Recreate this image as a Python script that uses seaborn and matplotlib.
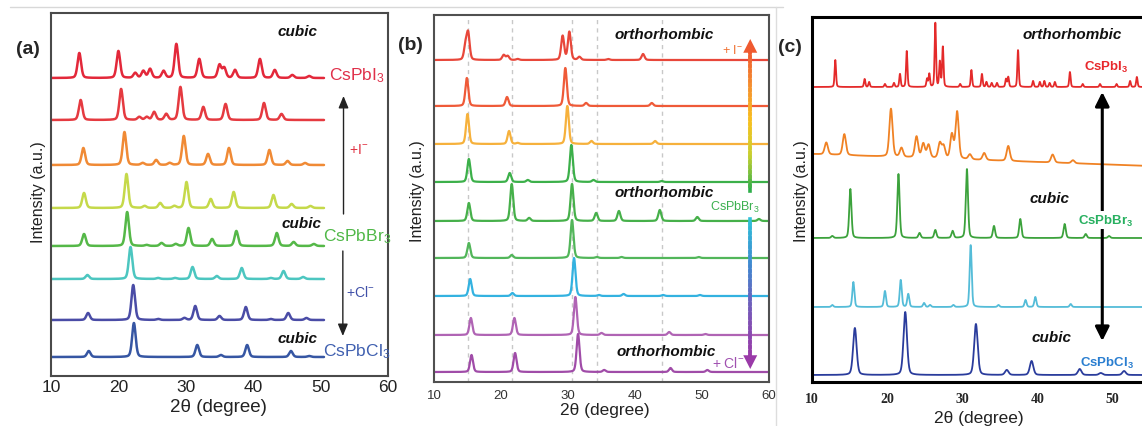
import numpy as np
import pandas as pd
import matplotlib
matplotlib.use("Agg")
import matplotlib.pyplot as plt
import seaborn as sns
from matplotlib.collections import LineCollection
from matplotlib.colors import LinearSegmentedColormap
from matplotlib.lines import Line2D
from matplotlib.ticker import MultipleLocator

# ---- panel (a): CsPbI3 (top) -> CsPbBr3 -> CsPbCl3 (bottom), cubic
a_colors = ["#e3283a", "#e53a40", "#f08a35", "#c5d94a", "#55b848", "#4cc6c0", "#4a4ca6", "#3656a3"]
a_offsets = [298, 256, 211, 168, 130, 97, 56, 19]
a_pos = [
    [14.2, 20.0, 22.5, 23.7, 24.7, 26.7, 28.6, 32.0, 35.0, 35.7, 37.3, 41.0, 43.2, 45.8, 48.3],
    [14.4, 20.4, 23.1, 24.2, 25.3, 27.1, 29.2, 32.6, 35.9, 41.6, 44.2],
    [14.8, 20.9, 23.6, 25.6, 27.6, 29.7, 33.3, 36.4, 42.4, 45.1, 47.7],
    [14.9, 21.2, 23.9, 26.2, 28.3, 30.1, 33.7, 37.1, 43.0, 45.7, 48.5],
    [14.9, 21.3, 24.2, 26.4, 28.5, 30.4, 33.9, 37.5, 43.5, 46.0, 49.0],
    [15.4, 21.8, 25.9, 28.4, 31.0, 34.6, 38.3, 42.6, 44.5, 47.4],
    [15.5, 22.2, 25.9, 29.8, 31.4, 35.0, 38.9, 42.6, 45.2, 47.9],
    [15.6, 22.3, 31.7, 35.2, 39.1, 45.6, 48.3],
]
a_hts = [
    [25, 27, 5, 7, 9, 7, 34, 19, 13, 10, 8, 19, 8, 3, 2],
    [20, 31, 3, 3, 8, 6, 33, 13, 16, 17, 6],
    [17, 33, 2, 5, 2, 29, 11, 17, 15, 4, 2],
    [15, 34, 2, 5, 2, 26, 9, 16, 13, 4, 2],
    [12, 34, 1, 3, 2, 18, 7, 15, 13, 4, 2],
    [4, 32, 1, 1, 12, 3, 11, 1, 8, 2],
    [7, 35, 1, 2, 14, 4, 13, 1, 7, 2],
    [6, 34, 12, 2, 12, 6, 1],
]

# ---- panel (b): orthorhombic, +I- (top) / CsPbBr3 / +Cl- (bottom)
b_colors = ["#e8473a", "#ef5a38", "#f6b13c", "#3cb04a", "#46b04a", "#52b65a", "#33b2e0", "#b064b4", "#a04ca8"]
b_offsets = [322, 276, 238, 200, 161, 124, 86, 47, 10]
b_pos = [
    [14.7, 15.1, 20.4, 21.0, 22.5, 29.2, 30.2, 31.7, 36.0, 41.2],
    [14.9, 20.9, 29.6, 32.7, 42.5],
    [15.0, 21.2, 22.5, 29.9, 33.5, 43.0],
    [15.2, 21.3, 24.0, 30.5, 33.8, 44.0],
    [15.2, 21.6, 24.2, 30.6, 34.2, 37.6, 43.7, 49.3, 58.5],
    [15.2, 21.6, 30.6, 34.3, 38.0, 49.5],
    [15.4, 21.7, 30.9, 34.6, 38.3, 44.2, 49.7],
    [15.5, 22.0, 31.1, 35.0, 45.1, 50.5],
    [15.6, 22.1, 31.5, 35.4, 45.3, 50.8],
]
b_hts = [
    [14, 26, 5, 4, 1, 24, 28, 3, 1, 6],
    [28, 9, 38, 3, 3],
    [30, 13, 1, 38, 3, 3],
    [23, 9, 2, 37, 2, 1],
    [18, 37, 3, 37, 8, 10, 11, 4, 2],
    [15, 3, 38, 1, 1, 1],
    [17, 3, 38, 1, 2, 1, 1],
    [17, 17, 38, 2, 3, 1],
    [17, 19, 38, 2, 4, 2],
]
b_refs = [15.1, 21.6, 30.6, 34.4, 44.0]

# ---- panel (c): CsPbI3 (orthorhombic) -> CsPbBr3 (cubic) -> CsPbCl3 (cubic)
c_colors = ["#e42a2a", "#f08224", "#3ca23c", "#54bcd8", "#2a3c9c"]
c_offsets = [295, 228, 144, 75, 7]
c_tilt = [0, -12, 0, 0, 0]
c_width = [0.22, 0.5, 0.35, 0.32, 0.55]
c_pos = [
    [13.1, 17.0, 17.6, 19.7, 20.9, 21.7, 22.6, 25.3, 25.6, 26.4, 27.0, 27.4, 29.7, 31.2, 32.6,
     33.2, 33.9, 34.6, 35.8, 36.1, 37.4, 39.4, 40.3, 40.9, 41.6, 42.3, 44.3, 46.0, 48.3, 50.5, 52.3, 53.2],
    [11.9, 14.3, 20.5, 21.9, 23.9, 24.8, 25.5, 27.0, 27.5, 28.6, 29.3, 31.0, 32.9, 36.1, 42.0, 44.7],
    [12.7, 15.1, 21.5, 24.3, 26.4, 28.7, 30.6, 34.2, 37.7, 43.6, 46.4, 49.5],
    [12.7, 15.5, 19.7, 21.8, 22.8, 24.9, 25.7, 28.8, 31.1, 34.8, 38.4, 39.7, 44.4],
    [15.7, 22.4, 31.8, 35.9, 39.2, 45.6, 48.4, 51.5],
]
c_hts = [
    [27, 8, 5, 3, 4, 13, 36, 8, 13, 64, 25, 40, 3, 17, 13,
     5, 4, 4, 8, 10, 37, 6, 5, 6, 4, 5, 15, 3, 3, 3, 6, 10],
    [12, 21, 48, 9, 21, 14, 13, 15, 12, 24, 47, 5, 7, 15, 8, 3],
    [2, 49, 64, 5, 8, 7, 69, 12, 19, 14, 4, 2],
    [2, 25, 16, 27, 13, 4, 2, 2, 62, 2, 7, 10, 3],
    [47, 63, 51, 5, 14, 6, 2, 4],
]

W, H = 1142, 427
sns.set_style("white")
plt.rcParams["font.family"] = ["Liberation Sans", "DejaVu Sans"]
plt.rcParams["mathtext.fontset"] = "custom"
plt.rcParams["mathtext.rm"] = "Liberation Sans"
plt.rcParams["mathtext.it"] = "Liberation Sans:italic"
plt.rcParams["mathtext.bf"] = "Liberation Sans:bold"

fig = plt.figure(figsize=(W / 100, H / 100), dpi=100)
fig.patch.set_facecolor("white")


def rect(left, top, right, bottom):
    return [left / W, 1 - bottom / H, (right - left) / W, (bottom - top) / H]


def draw_trace(ax, x0, x1, pos, hts, width, offset, color, lw, tilt=0):
    x = np.linspace(x0, x1, 2500)
    y = offset + tilt * (x - x0) / 45.0
    for p, h in zip(pos, hts):
        u = (x - p) / width
        y = y + h * (0.7 * np.exp(-4 * np.log(2) * u ** 2) + 0.3 / (1 + 4 * u ** 2))
    df = pd.DataFrame({"two_theta": x, "intensity": y})
    sns.lineplot(data=df, x="two_theta", y="intensity", ax=ax, color=color,
                 linewidth=lw, estimator=None, sort=False)


def gradient_arrow(ax, x, y0, y1, colors, lw=2.6):
    step = 1 if y1 > y0 else -1
    ys = np.linspace(y0, y1 - step * 8, 31)
    pts = np.column_stack([np.full_like(ys, x), ys]).reshape(-1, 1, 2)
    segs = np.concatenate([pts[:-1], pts[1:]], axis=1)
    cmap = LinearSegmentedColormap.from_list("grad", colors)
    lc = LineCollection(segs, colors=cmap(np.linspace(0, 1, len(segs))), linewidth=lw,
                        capstyle="projecting", zorder=4)
    ax.add_collection(lc)
    ax.annotate("", xy=(x, y1), xytext=(x, y1 - step * 10),
                arrowprops=dict(arrowstyle="-|>,head_length=0.55,head_width=0.28",
                                color=colors[-1], lw=0, shrinkA=0, shrinkB=0,
                                mutation_scale=18), zorder=5)


# ================= panel (a) =================
ax_a = fig.add_axes(rect(51, 14, 388, 377))
for i in range(len(a_pos)):
    draw_trace(ax_a, 10, 50.5, a_pos[i], a_hts[i], 0.62, a_offsets[i], a_colors[i], 1.8)
ax_a.set_xlim(10, 60)
ax_a.set_ylim(0, 363)
ax_a.xaxis.set_major_locator(MultipleLocator(10))
ax_a.xaxis.set_minor_locator(MultipleLocator(5))
ax_a.tick_params(axis="x", which="both", direction="in", length=4, width=1.2,
                 color="#333333", labelsize=12.5, labelcolor="#222222", pad=2)
ax_a.tick_params(axis="y", left=False, labelleft=False)
for s in ax_a.spines.values():
    s.set_color("#4a4a4a")
    s.set_linewidth(1.5)
ax_a.set_xlabel("2θ (degree)", fontsize=13.5, color="#222222", va="center")
ax_a.xaxis.set_label_coords(0.496, -0.085)
ax_a.set_ylabel("Intensity (a.u.)", fontsize=11.5, color="#222222", va="center")
ax_a.yaxis.set_label_coords(-0.038, 0.51)

txt = dict(fontsize=11, fontweight="bold", fontstyle="italic", ha="center", va="center", color="#111111")
ax_a.text(46.6, 345, "cubic", **txt)
ax_a.text(47.2, 153, "cubic", **txt)
ax_a.text(46.6, 38, "cubic", **txt)
ax_a.text(51.3, 301, r"CsPbI$_3$", fontsize=12.5, color="#e0304a", va="center", clip_on=False)
ax_a.text(50.3, 140, r"CsPbBr$_3$", fontsize=12.5, color="#50b848", va="center", clip_on=False)
ax_a.text(50.3, 25, r"CsPbCl$_3$", fontsize=12.5, color="#4060b0", va="center", clip_on=False)
ax_a.text(54.2, 227, r"+I$^{-}$", fontsize=10, color="#e03040", va="center")
ax_a.text(53.7, 84, r"+Cl$^{-}$", fontsize=10, color="#4050a8", va="center")
arr = dict(arrowstyle="-|>,head_length=0.6,head_width=0.25", color="#222222", lw=1.0,
           shrinkA=0, shrinkB=0, mutation_scale=12)
ax_a.annotate("", xy=(53.4, 280), xytext=(53.4, 162), arrowprops=arr)
ax_a.annotate("", xy=(53.3, 40), xytext=(53.3, 125), arrowprops=arr)

# ================= panel (b) =================
ax_b = fig.add_axes(rect(434, 16, 769, 383))
for xr in b_refs:
    ax_b.axvline(xr, color="#c8c8c8", lw=1.0, ls=(0, (3, 3)), zorder=0)
for i in range(len(b_pos)):
    draw_trace(ax_b, 10, 60, b_pos[i], b_hts[i], 0.52, b_offsets[i], b_colors[i], 1.6)
ax_b.set_xlim(10, 60)
ax_b.set_ylim(0, 367)
ax_b.xaxis.set_major_locator(MultipleLocator(10))
ax_b.tick_params(axis="x", direction="in", length=3, width=1.5, color="#444444",
                 labelsize=9.5, labelcolor="#333333", pad=5)
ax_b.tick_params(axis="y", left=False, labelleft=False)
for s in ax_b.spines.values():
    s.set_color("#505050")
    s.set_linewidth(1.5)
ax_b.set_xlabel("2θ (degree)", fontsize=12.5, color="#222222", va="center")
ax_b.xaxis.set_label_coords(0.51, -0.076)
ax_b.set_ylabel("Intensity (a.u.)", fontsize=11.5, color="#222222", va="center")
ax_b.yaxis.set_label_coords(-0.048, 0.523)

ax_b.text(44.3, 348, "orthorhombic", **txt)
ax_b.text(44.3, 190, "orthorhombic", **txt)
ax_b.text(44.7, 31, "orthorhombic", **txt)
ax_b.text(54.5, 332, r"+ I$^{-}$", fontsize=9, color="#f07030", ha="center", va="center")
ax_b.text(53.9, 19, r"+ Cl$^{-}$", fontsize=10, color="#a050b0", ha="center", va="center")
ax_b.text(58.6, 176, r"CsPbBr$_3$", fontsize=9, color="#3cb050", ha="right", va="center",
          bbox=dict(facecolor="white", edgecolor="none", pad=0.5))
gradient_arrow(ax_b, 57.2, 191, 343, ["#2fae4a", "#c8d030", "#f8c020", "#f59030", "#ef5a30"])
gradient_arrow(ax_b, 57.2, 163, 13, ["#30c0d8", "#4088d0", "#7858b8", "#9a3aa8"])

# ================= panel (c) =================
ax_c = fig.add_axes(rect(812, 18, 1188, 383))
for i in range(len(c_pos)):
    draw_trace(ax_c, 10, 60, c_pos[i], c_hts[i], c_width[i], c_offsets[i], c_colors[i], 1.3,
               tilt=c_tilt[i])
ax_c.set_xlim(10, 60)
ax_c.set_ylim(0, 365)
ax_c.set_xticks([10, 20, 30, 40, 50])
ax_c.xaxis.set_minor_locator(MultipleLocator(5))
ax_c.tick_params(axis="x", which="both", direction="in", length=5, width=1.5, color="black",
                 labelsize=10, pad=7)
ax_c.tick_params(axis="y", left=False, labelleft=False)
for lab in ax_c.get_xticklabels():
    lab.set_fontfamily("Liberation Serif")
    lab.set_fontweight("bold")
for s in ax_c.spines.values():
    s.set_color("black")
    s.set_linewidth(2.2)
ax_c.set_xlabel("2θ (degree)", fontsize=12.5, color="#222222", va="center")
ax_c.xaxis.set_label_coords(0.444, -0.096)
ax_c.set_ylabel("Intensity (a.u.)", fontsize=11.5, color="#222222", va="center")
ax_c.yaxis.set_label_coords(-0.029, 0.526)

ax_c.annotate("", xy=(48.6, 290), xytext=(48.6, 41),
              arrowprops=dict(arrowstyle="<|-|>,head_length=0.6,head_width=0.3", color="black",
                              lw=2.2, shrinkA=0, shrinkB=0, mutation_scale=14))
ax_c.text(44.6, 348, "orthorhombic", **txt)
ax_c.text(41.6, 184, "cubic", **txt)
ax_c.text(41.8, 45, "cubic", **txt)
lbl = dict(fontsize=9.5, fontweight="bold", ha="center", va="center")
ax_c.text(49.1, 316, r"CsPbI$_\mathbf{3}$", color="#e8282c", **lbl)
ax_c.text(49.0, 162, r"CsPbBr$_\mathbf{3}$", color="#28b060",
          bbox=dict(facecolor="white", edgecolor="none", pad=0.8), **lbl)
ax_c.text(49.2, 20, r"CsPbCl$_\mathbf{3}$", color="#2a7ed0", **lbl)

# panel letters and page edge lines
for lx, ly, letter in [(28, 50, "(a)"), (410, 45, "(b)"), (790, 48, "(c)")]:
    fig.text(lx / W, 1 - ly / H, letter, fontsize=14, fontweight="bold", ha="center", va="center")
fig.add_artist(Line2D([10 / W, 783 / W], [1 - 8 / H, 1 - 8 / H], color="#d8d8d8", lw=1))
fig.add_artist(Line2D([776 / W, 776 / W], [1 - 8 / H, 0], color="#dddddd", lw=1))

fig.savefig("out.png", dpi=100, facecolor="white")
